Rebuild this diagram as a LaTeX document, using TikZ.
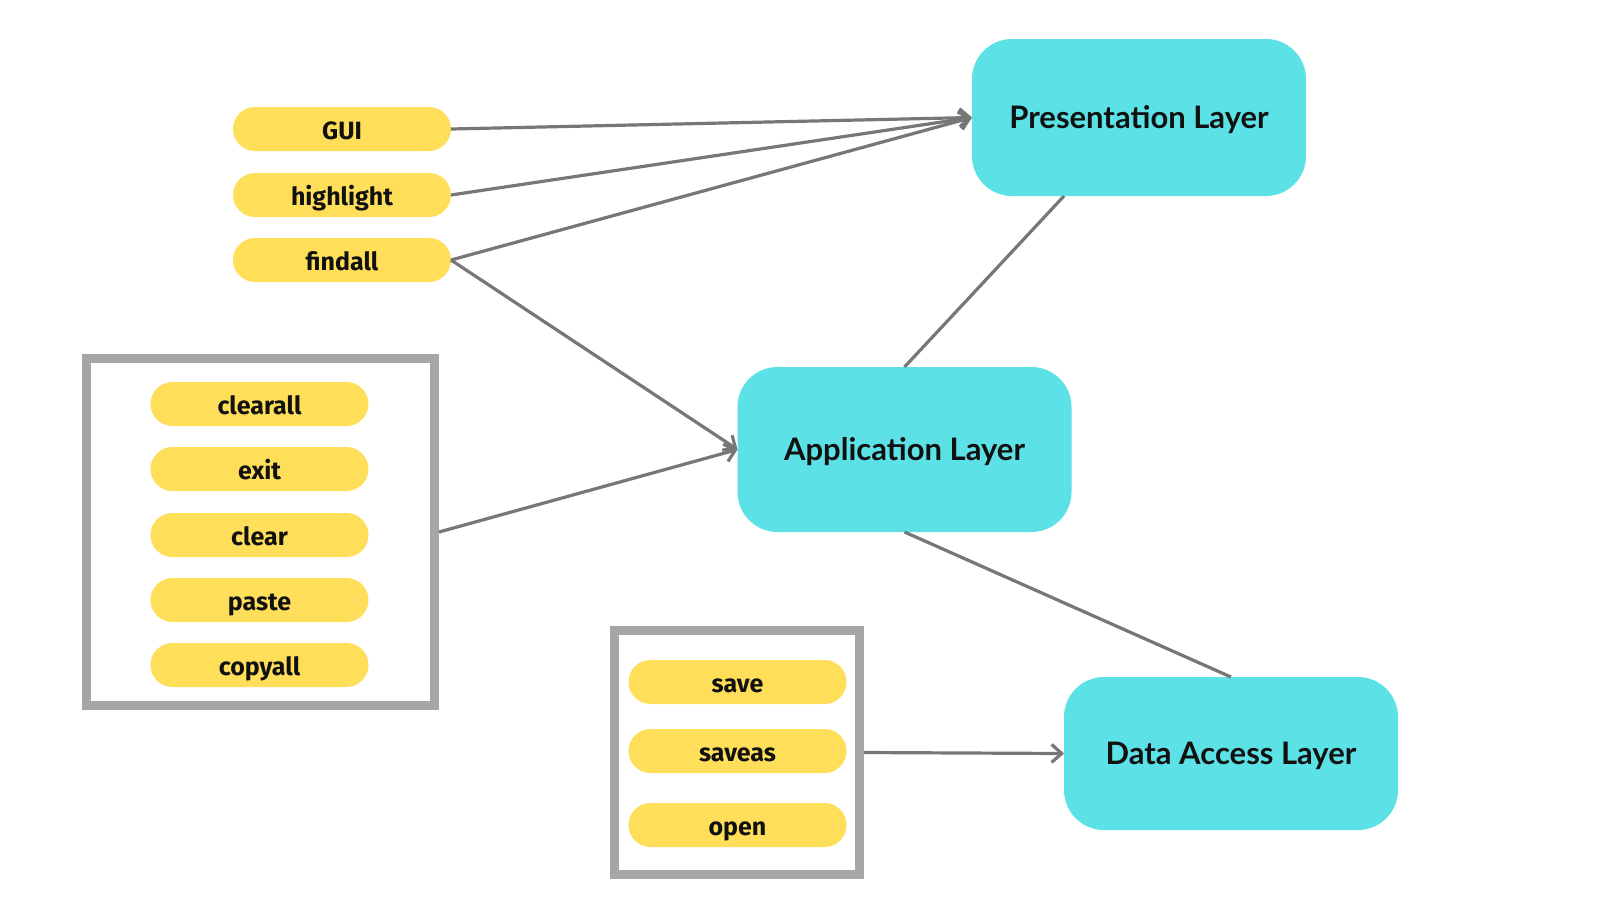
\documentclass[tikz,border=0pt]{standalone}
\usepackage{fontspec}
\newfontfamily\pillfont{Fira Sans}
\newfontfamily\layerfont{Lato}
\usetikzlibrary{arrows.meta,calc}
\definecolor{pillyellow}{HTML}{FFDE59}
\definecolor{layercyan}{HTML}{5CE1E6}
\definecolor{framegray}{HTML}{A6A6A6}
\definecolor{linegray}{HTML}{777777}
\definecolor{textdark}{HTML}{111111}
\tikzset{
  pill/.style={fill=pillyellow, rounded corners=11pt, minimum width=109pt, minimum height=22pt,
    inner sep=0pt, outer sep=0pt, text=textdark, text height=10pt, text depth=0pt,
    font=\pillfont\bfseries\fontsize{12.5}{13}\selectfont},
  layer/.style={fill=layercyan, rounded corners=20pt, minimum width=167pt,
    inner sep=0pt, outer sep=0pt, text=textdark, text height=11pt, text depth=0pt,
    font=\layerfont\bfseries\fontsize{15.5}{17}\selectfont},
  frame/.style={draw=framegray, line width=4.5pt, inner sep=0pt, outer sep=2.25pt},
  conn/.style={draw=linegray, line width=1.6pt},
  arr/.style={conn, -{Straight Barb[length=5pt,width=9pt,line width=1.6pt]}}
}
\begin{document}
\begin{tikzpicture}[x=0.5pt,y=-0.5pt]
\useasboundingbox[fill=white] (0,0) rectangle (1600,900);
% frames
\node[frame, minimum width=174pt, minimum height=173.5pt] (lbox) at (260.5,532) {};
\node[frame, minimum width=122.5pt, minimum height=122pt] (bbox) at (737,752.5) {};
% layers
\node[layer, minimum height=78.5pt] (pres) at (1139,117.5) {Presentation Layer};
\node[layer, minimum height=82.5pt] (app) at (904.5,449.5) {Application Layer};
\node[layer, minimum height=76.5pt] (data) at (1231,753.5) {Data Access Layer};
% top pills
\node[pill] (gui) at (342,129) {GUI};
\node[pill] (hl) at (342,195) {highlight};
\node[pill] (fa) at (342,260) {findall};
% left box pills
\node[pill] (ca) at (259.5,404) {clearall};
\node[pill] (ex) at (259.5,469) {exit};
\node[pill] (cl) at (259.5,535) {clear};
\node[pill] (pa) at (259.5,600) {paste};
\node[pill] (cp) at (259.5,665) {copyall};
% bottom box pills
\node[pill] (sv) at (737.5,682) {save};
\node[pill] (sa) at (737.5,751) {saveas};
\node[pill] (op) at (737.5,825) {open};
% connectors
\draw[arr] (gui.east) -- (pres.west);
\draw[arr] (hl.east) -- (pres.west);
\draw[arr] (fa.east) -- (pres.west);
\draw[arr] (fa.east) -- (app.west);
\draw[arr] (lbox.east) -- (app.west);
\draw[arr] (bbox.east) -- (data.west);
\draw[conn] ($(pres.south)+(-75,0)$) -- (app.north);
\draw[conn] (app.south) -- (data.north);
\end{tikzpicture}
\end{document}
